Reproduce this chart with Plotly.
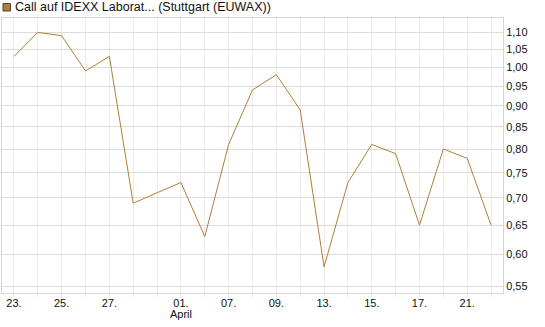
import plotly.graph_objects as go
import math

# data
day_labels = ["23.", "24.", "25.", "26.", "27.", "30.", "31.", "01.", "06.", "07.",
              "08.", "09.", "10.", "13.", "14.", "15.", "16.", "17.", "20.", "21.", "22."]
prices = [1.03, 1.10, 1.09, 0.99, 1.03, 0.69, 0.71, 0.73, 0.63, 0.81,
          0.94, 0.98, 0.89, 0.58, 0.73, 0.81, 0.79, 0.65, 0.80, 0.78, 0.65]
shown_ticks = ["23.", "25.", "27.", "01.", "07.", "09.", "13.", "15.", "17.", "21."]
month_labels = {"01.": "April"}
y_ticks = [0.55, 0.60, 0.65, 0.70, 0.75, 0.80, 0.85, 0.90, 0.95, 1.00, 1.05, 1.10]
series_name = "Call auf IDEXX Laborat... (Stuttgart (EUWAX))"

x_idx = list(range(len(prices)))
tickvals = x_idx
ticktext = [d if d in shown_ticks else "" for d in day_labels]

line_color = "#b07f3a"
plot_h = 327 - 18 - 34
plot_w = 545 - 2 - 42

annotations = [dict(text=series_name, xref="paper", yref="paper",
                    x=(13 - 2) / plot_w, y=1 + (18 - 7.2) / plot_h,
                    xanchor="left", yanchor="middle", showarrow=False,
                    font=dict(size=12.5, color="#111"))]
for d, m in month_labels.items():
    annotations.append(dict(text=m, xref="x", yref="paper",
                            x=day_labels.index(d), y=-(314 - 293) / plot_h,
                            xanchor="center", yanchor="middle", showarrow=False,
                            font=dict(size=11, color="#111")))

fig = go.Figure()
fig.add_trace(go.Scatter(x=x_idx, y=prices, mode="lines",
                         line=dict(color=line_color, width=1),
                         showlegend=False, hoverinfo="skip"))

fig.update_layout(
    width=545, height=327,
    margin=dict(l=2, r=42, t=18, b=34),
    paper_bgcolor="white", plot_bgcolor="white",
    font=dict(family="Liberation Sans, Arial, sans-serif", size=11, color="#111"),
    xaxis=dict(range=[-0.5, 20.5], tickmode="array", tickvals=tickvals, ticktext=ticktext,
               showgrid=True, gridcolor="#ececec", gridwidth=1,
               ticks="inside", ticklen=3, tickcolor="#ececec",
               minor=dict(ticks="outside", ticklen=3, tickcolor="#e4e4e4",
                          dtick=1, tick0=0, showgrid=False),
               showline=True, linecolor="#d6d6d6", linewidth=1, mirror=True,
               zeroline=False, tickfont=dict(size=11)),
    yaxis=dict(type="log", side="right",
               range=[math.log10(0.540), math.log10(1.144)],
               tickmode="array", tickvals=y_ticks,
               ticktext=[f"{v:.2f}".replace(".", ",") for v in y_ticks],
               showgrid=True, gridcolor="#dcdcdc", gridwidth=1,
               ticks="", showline=True, linecolor="#d6d6d6", linewidth=1, mirror=True,
               zeroline=False, tickfont=dict(size=11)),
    shapes=[dict(type="rect", xref="paper", yref="paper",
                 x0=(3 - 2) / plot_w, x1=(10.5 - 2) / plot_w,
                 y0=1 + (18 - 11) / plot_h, y1=1 + (18 - 3.5) / plot_h,
                 fillcolor=line_color, line=dict(color="#444", width=1))],
    annotations=annotations,
)

fig.write_html("out.html")
